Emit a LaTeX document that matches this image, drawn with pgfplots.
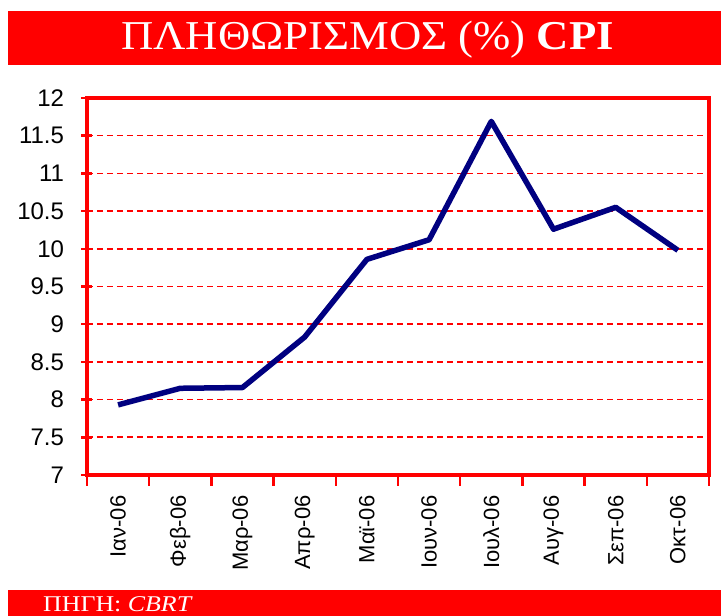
\documentclass[border=0pt]{standalone}
\usepackage{fontspec}
\setmainfont{Liberation Serif}
\newfontfamily\arial{Liberation Sans}
\usepackage{graphicx}
\usepackage{pgfplots}
\pgfplotsset{compat=1.18}
\definecolor{xred}{RGB}{255,0,0}
\definecolor{navy}{RGB}{0,0,128}
\begin{document}
\begin{tikzpicture}[x=1pt,y=1pt]
\useasboundingbox (0,0) rectangle (721,616);
\fill[xred] (8,551) rectangle (721,605);
\node[text=white, font=\fontsize{41}{41}\selectfont, inner sep=0pt, anchor=base] at (367.5,566) {\scalebox{1.09}[1]{ΠΛΗΘΩΡΙΣΜΟΣ (\%) \textbf{CPI}}};
\fill[xred] (8,0) rectangle (721,26);
\node[text=white, font=\fontsize{22.5}{22.5}\selectfont, inner sep=0pt, anchor=base west] at (43,4.5) {\scalebox{1.15}[1]{ΠΗΓΗ: \textit{CBRT}}};
\begin{axis}[
  at={(87pt,141pt)}, anchor=south west,
  width=622pt, height=377pt, scale only axis,
  xmin=-0.5, xmax=9.5, ymin=7, ymax=12,
  ytick={7,7.5,8,8.5,9,9.5,10,10.5,11,11.5,12},
  yticklabel={\arial\fontsize{24}{24}\selectfont\pgfmathprintnumber[assume math mode=true]{\tick}},
  xtick={-0.5,0.5,1.5,2.5,3.5,4.5,5.5,6.5,7.5,8.5,9.5},
  xticklabels={},
  extra x ticks={0,1,2,3,4,5,6,7,8,9},
  extra x tick labels={Ιαν-06,Φεβ-06,Μαρ-06,Απρ-06,Μαϊ-06,Ιουν-06,Ιουλ-06,Αυγ-06,Σεπ-06,Οκτ-06},
  extra x tick style={tick style={draw=none}, xticklabel style={rotate=90, anchor=east, xshift=-6pt}},
  axis line style={xred, line width=3.5pt},
  every tick/.style={xred, line width=2.5pt},
  major tick length=11pt,
  yticklabel style={anchor=east, xshift=-14pt},
  xticklabel style={font=\arial\fontsize{22}{22}\selectfont},
  xtick align=outside, ytick align=center,
  ymajorgrids=true,
  y grid style={xred, line width=1.6pt, dash pattern=on 6pt off 4pt},
  tick pos=left,
  clip=false,
]
\addplot[navy, line width=5.5pt, line join=round] coordinates {
(0,7.93) (1,8.15) (2,8.16) (3,8.83) (4,9.86) (5,10.12) (6,11.69) (7,10.26) (8,10.55) (9,9.98)
};
\end{axis}
\end{tikzpicture}
\end{document}
